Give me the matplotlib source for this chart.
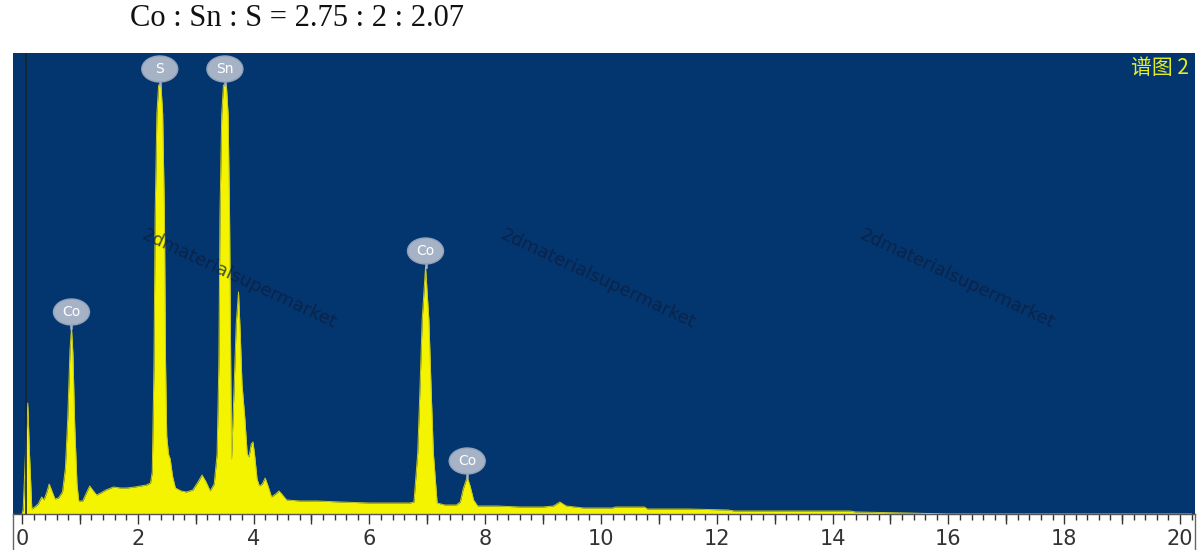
import matplotlib
matplotlib.use("Agg")
import matplotlib.pyplot as plt
from matplotlib.lines import Line2D
from matplotlib.patches import Ellipse
import numpy as np

# ---- spectrum data (energy keV, counts a.u.) ----
energy = [0.00, 0.02, 0.06, 0.10, 0.13, 0.17, 0.22, 0.28, 0.34, 0.38, 0.43, 0.47, 0.51,
          0.57, 0.63, 0.70, 0.75, 0.79, 0.83, 0.855, 0.88, 0.91, 0.95, 0.98, 1.05, 1.12,
          1.17, 1.22, 1.29, 1.36, 1.45, 1.58, 1.70, 1.81, 1.95, 2.05, 2.15, 2.22, 2.25,
          2.28, 2.30, 2.33, 2.36, 2.40, 2.43, 2.46, 2.48, 2.50, 2.53, 2.56, 2.60, 2.65,
          2.75, 2.84, 2.95, 3.04, 3.11, 3.18, 3.25, 3.32, 3.37, 3.40, 3.42, 3.45, 3.48,
          3.53, 3.56, 3.585, 3.605, 3.62, 3.66, 3.70, 3.74, 3.77, 3.80, 3.85, 3.89, 3.92,
          3.96, 3.99, 4.02, 4.06, 4.10, 4.15, 4.20, 4.25, 4.31, 4.38, 4.44, 4.50, 4.57,
          4.80, 5.10, 5.50, 6.00, 6.50, 6.70, 6.77, 6.835, 6.875, 6.912, 6.97, 7.028,
          7.065, 7.105, 7.17, 7.30, 7.50, 7.57, 7.62, 7.69, 7.74, 7.80, 7.87, 8.20, 8.60,
          9.00, 9.18, 9.29, 9.40, 9.70, 10.00, 10.20, 10.25, 10.75, 10.80, 11.50, 12.20,
          12.30, 14.30, 14.40, 15.30, 16.00, 20.20]
counts = [0, 4, 60, 111, 60, 5, 7, 10, 17, 14, 22, 30, 24,
          15, 16, 22, 46, 95, 165, 186, 160, 90, 30, 13, 13, 22,
          28, 24, 19, 21, 24, 27, 26, 26, 27, 28, 29, 31, 42,
          150, 300, 400, 429, 429, 400, 300, 150, 78, 60, 55, 38, 26,
          23, 22, 24, 32, 39, 32, 23, 30, 60, 150, 300, 400, 429,
          429, 400, 300, 150, 55, 120, 190, 222, 180, 130, 95, 60, 57,
          70, 72, 58, 35, 28, 30, 36, 28, 17, 20, 23, 19, 14,
          13, 13, 12, 11, 11, 11, 12, 61, 127, 194, 247, 194,
          127, 61, 11, 9, 9, 12, 25, 37, 28, 14, 8, 8, 7,
          7, 8, 12, 8, 6, 6, 6, 7, 7, 5, 5, 4,
          3, 3, 2, 1, 0, 0]

# peak labels
label_names = ["Co", "S", "Sn", "Co", "Co"]
label_energy = [0.855, 2.38, 3.505, 6.97, 7.69]

x_ticks = [0, 2, 4, 6, 8, 10, 12, 14, 16, 18, 20]
title_text = "Co : Sn : S = 2.75 : 2 : 2.07"
spectrum_name = "谱图 2"
watermark = "2dmaterialsupermarket"

BLUE = "#03356F"
YELLOW = "#F4F400"
W, H = 1200, 550

fig = plt.figure(figsize=(12, 5.5), dpi=100)
ax = fig.add_axes([13 / W, 1 - 514 / H, (1195 - 13) / W, (514 - 53) / H])
ax.set_facecolor(BLUE)

ax.fill_between(energy, counts, 0, color=YELLOW, lw=0, zorder=2)
ax.plot(energy, counts, color="#C8C820", lw=0.7, zorder=3)
ax.axvline(0.07, color="#1B2430", lw=1.2, zorder=4)

ax.set_xlim(-0.155, 20.26)
ax.set_ylim(0, 461)
ax.set_yticks([])
ax.set_xticks(x_ticks)
ax.set_xticklabels([str(t) for t in x_ticks])
ax.xaxis.set_minor_locator(matplotlib.ticker.MultipleLocator(0.2))
ax.tick_params(axis="x", which="major", direction="out", length=7, width=1,
               color="#333333", labelsize=15, labelcolor="#333333", pad=4)
ax.tick_params(axis="x", which="minor", direction="out", length=4, width=1,
               color="#333333")
for s in ["top", "left", "right"]:
    ax.spines[s].set_visible(False)
ax.spines["bottom"].set_color("#555555")
ax.spines["bottom"].set_linewidth(1)

sec = ax.secondary_xaxis("bottom")
sec.set_xticks(np.arange(1, 20, 2))
sec.set_xticklabels([])
sec.tick_params(direction="out", length=7, width=1, color="#333333")
sec.spines["bottom"].set_visible(False)

# peak label bubbles (fixed-size ellipses above each peak)
BW, BH, OFF = 36, 26, 16
for name, e in zip(label_names, label_energy):
    c = np.interp(e, energy, counts)
    px, py = ax.transData.transform((e, c))
    cy = py + OFF
    fig.add_artist(Line2D([px / W, px / W], [py / H, (cy - BH / 2 + 2) / H],
                          color="#A6B3C7", lw=1.8, zorder=6))
    fig.add_artist(Ellipse((px / W, cy / H), BW / W, BH / H, fc="#A6B3C7",
                           ec="#93A2B8", lw=1, zorder=7))
    fig.text(px / W, cy / H, name, ha="center", va="center", color="white",
             fontsize=10, zorder=8)

# spectrum name
ax.text(0.995, 0.967, spectrum_name, transform=ax.transAxes, ha="right", va="center",
        color="#E6EE20", fontsize=15, family=["Noto Sans CJK SC", "DejaVu Sans"], zorder=6)

# watermark
for cx in [239, 598, 957]:
    fig.text(cx / W, 1 - 279 / H, watermark, ha="center", va="center",
             rotation=-25, rotation_mode="anchor", fontsize=13, color="#0E1E3C",
             alpha=0.75, zorder=10)

# title
fig.text(297 / W, 1 - 18 / H, title_text, ha="center", va="center",
         fontsize=22, family="Liberation Serif", color="#111111")

# side borders of the tick strip
for xp in [13, 1195]:
    fig.add_artist(Line2D([xp / W, xp / W], [0, 1 - 514 / H], color="#666666", lw=1))

fig.savefig("out.png", dpi=100)
